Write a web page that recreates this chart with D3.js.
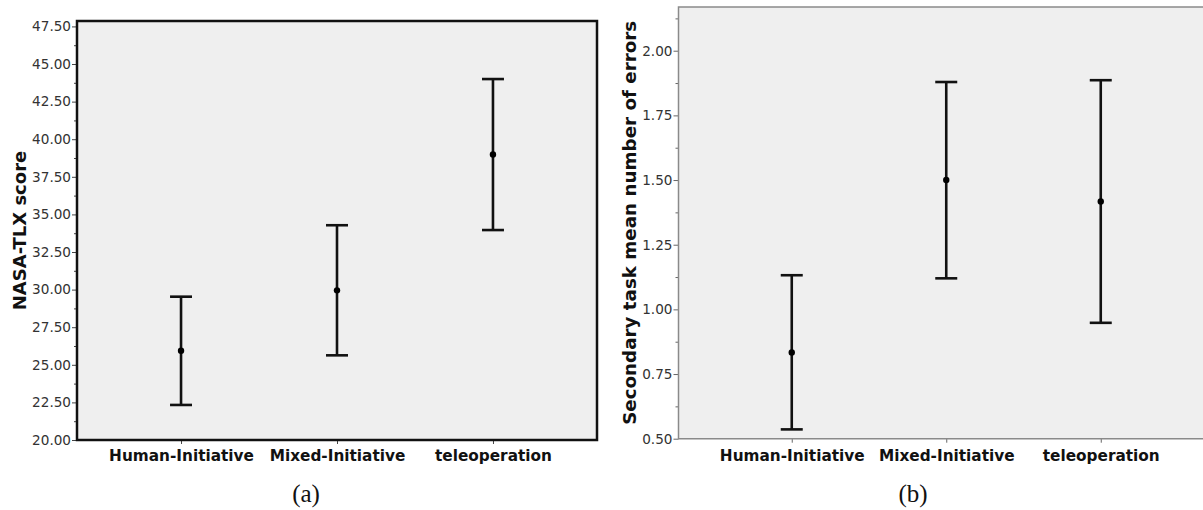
<!DOCTYPE html>
<html>
<head>
<meta charset="utf-8">
<script src="https://cdn.jsdelivr.net/npm/d3@7"></script>
<style>
  html, body { margin: 0; padding: 0; background: #fff; }
  svg { display: block; }
  .tick text { font-family: "DejaVu Sans", sans-serif; }
</style>
</head>
<body>
<svg id="chart" width="1203" height="510"></svg>
<script>
// ---------- data ----------
const categories = ["Human-Initiative", "Mixed-Initiative", "teleoperation"];

const nasaMean  = [25.93, 29.95, 38.98];
const nasaLower = [22.33, 25.63, 33.96];
const nasaUpper = [29.53, 34.28, 44.00];
const nasaTicks = [20, 22.5, 25, 27.5, 30, 32.5, 35, 37.5, 40, 42.5, 45, 47.5];
const nasaMinorTicks = [21.25, 23.75, 26.25, 28.75, 31.25, 33.75, 36.25, 38.75, 41.25, 43.75, 46.25];

const errMean  = [0.833, 1.500, 1.417];
const errLower = [0.536, 1.120, 0.948];
const errUpper = [1.132, 1.879, 1.886];
const errTicks = [0.5, 0.75, 1.0, 1.25, 1.5, 1.75, 2.0];
const errMinorTicks = [0.625, 0.875, 1.125, 1.375, 1.625, 1.875, 2.125];

const panelTitles = ["NASA-TLX score", "Secondary task mean number of errors"];
const captions = ["(a)", "(b)"];

// ---------- drawing ----------
const svg = d3.select("#chart");

function drawPanel(cfg) {
  const g = svg.append("g");
  const x = d3.scalePoint().domain(categories).range([cfg.x0, cfg.x1]).padding(cfg.pad);
  const y = d3.scaleLinear().domain(cfg.domain).range([cfg.y0, cfg.y1]);

  // background
  g.append("rect")
    .attr("x", cfg.x0).attr("y", cfg.y1)
    .attr("width", cfg.x1 - cfg.x0).attr("height", cfg.y0 - cfg.y1)
    .attr("fill", "#efefef");

  // minor y ticks
  const minor = g.append("g").attr("transform", `translate(${cfg.x0},0)`)
    .call(d3.axisLeft(y).tickValues(cfg.minorTicks).tickSize(3).tickFormat(""));
  minor.select(".domain").remove();
  minor.selectAll("line").attr("stroke", cfg.tickColor);

  // major y ticks
  const ya = g.append("g").attr("transform", `translate(${cfg.x0},0)`)
    .call(d3.axisLeft(y).tickValues(cfg.ticks).tickSize(5).tickPadding(1).tickFormat(d3.format(".2f")));
  ya.select(".domain").remove();
  ya.selectAll("line").attr("stroke", cfg.tickColor);
  ya.selectAll("text").attr("font-size", 13.6).attr("fill", "#333");

  // x axis
  const xa = g.append("g").attr("transform", `translate(0,${cfg.y0})`)
    .call(d3.axisBottom(x).tickSize(4).tickPadding(cfg.xPad));
  xa.select(".domain").remove();
  xa.selectAll("line").attr("stroke", cfg.tickColor);
  xa.selectAll("text").attr("font-size", 15.3).attr("font-weight", "bold").attr("fill", "#111");

  // frame
  if (cfg.boxed) {
    g.append("rect")
      .attr("x", cfg.x0).attr("y", cfg.y1)
      .attr("width", cfg.x1 - cfg.x0).attr("height", cfg.y0 - cfg.y1)
      .attr("fill", "none").attr("stroke", "#111").attr("stroke-width", 2.5);
  } else {
    g.append("path")
      .attr("d", `M${cfg.x1},${cfg.y1}H${cfg.x0}V${cfg.y0}H${cfg.x1}`)
      .attr("fill", "none").attr("stroke", "#8a8a8a").attr("stroke-width", 1.5);
  }

  // error bars
  const cap = 11;
  const bars = g.append("g").selectAll("g").data(categories).join("g");
  bars.append("line")
    .attr("x1", d => x(d)).attr("x2", d => x(d))
    .attr("y1", (d, i) => y(cfg.lower[i])).attr("y2", (d, i) => y(cfg.upper[i]))
    .attr("stroke", "#111").attr("stroke-width", 2.6);
  bars.append("line")
    .attr("x1", d => x(d) - cap).attr("x2", d => x(d) + cap)
    .attr("y1", (d, i) => y(cfg.upper[i])).attr("y2", (d, i) => y(cfg.upper[i]))
    .attr("stroke", "#111").attr("stroke-width", 2.6);
  bars.append("line")
    .attr("x1", d => x(d) - cap).attr("x2", d => x(d) + cap)
    .attr("y1", (d, i) => y(cfg.lower[i])).attr("y2", (d, i) => y(cfg.lower[i]))
    .attr("stroke", "#111").attr("stroke-width", 2.6);
  bars.append("circle")
    .attr("cx", d => x(d)).attr("cy", (d, i) => y(cfg.mean[i]))
    .attr("r", 3.2).attr("fill", "#000");

  // y title
  svg.append("text")
    .attr("transform", `translate(${cfg.titleX},${(cfg.y0 + cfg.y1) / 2}) rotate(-90)`)
    .attr("text-anchor", "middle").attr("dominant-baseline", "central")
    .attr("font-family", "DejaVu Sans, sans-serif").attr("font-weight", "bold")
    .attr("font-size", cfg.titleSize).attr("fill", "#111")
    .text(cfg.title);

  // caption
  svg.append("text")
    .attr("x", cfg.capX).attr("y", 502)
    .attr("text-anchor", "middle")
    .attr("font-family", "Liberation Serif, serif")
    .attr("font-size", 25).attr("fill", "#111")
    .text(cfg.caption);
}

drawPanel({
  x0: 77, x1: 597, pad: 0.667, y0: 440, y1: 21,
  domain: [20, 47.86], ticks: nasaTicks, minorTicks: nasaMinorTicks,
  mean: nasaMean, lower: nasaLower, upper: nasaUpper,
  boxed: true, tickColor: "#444", xPad: 6,
  title: panelTitles[0], titleX: 19, titleSize: 18,
  caption: captions[0], capX: 306
});

drawPanel({
  x0: 678.5, x1: 1214, pad: 0.733, y0: 438.7, y1: 7,
  domain: [0.5, 2.169], ticks: errTicks, minorTicks: errMinorTicks,
  mean: errMean, lower: errLower, upper: errUpper,
  boxed: false, tickColor: "#666", xPad: 7,
  title: panelTitles[1], titleX: 629, titleSize: 18.3,
  caption: captions[1], capX: 913
});
</script>
</body>
</html>
